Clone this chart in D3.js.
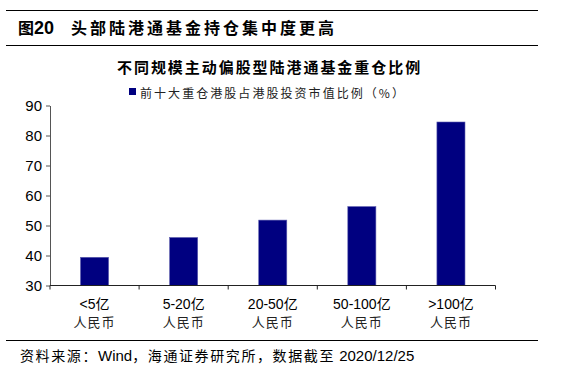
<!DOCTYPE html>
<html lang="zh">
<head>
<meta charset="UTF-8">
<title>头部陆港通基金持仓集中度更高</title>
<script src="https://d3js.org/d3.v7.min.js"></script>
<style>
  body { margin: 0; background: #fff; }
  svg { display: block; }
  .cjk { font-family: "Noto Sans CJK SC", sans-serif; }
  .num { font-family: "Liberation Sans", Arial, sans-serif; }
</style>
</head>
<body>
<div id="chart"></div>
<script>
// data
const categories = ["<5亿", "5-20亿", "20-50亿", "50-100亿", ">100亿"];
const subLabels = ["人民币", "人民币", "人民币", "人民币", "人民币"];
const values = [39.4, 46.0, 51.8, 56.3, 84.5];
const yTicks = [30, 40, 50, 60, 70, 80, 90];
const seriesName = "前十大重仓港股占港股投资市值比例（%）";

const W = 561, H = 371;
const navy = "#000080";

const svg = d3.select("#chart").append("svg")
    .attr("width", W)
    .attr("height", H);

// header rules
svg.append("line").attr("x1", 6).attr("x2", 538).attr("y1", 10.5).attr("y2", 10.5)
    .attr("stroke", "#000").attr("stroke-width", 1);
svg.append("line").attr("x1", 6).attr("x2", 538).attr("y1", 45.5).attr("y2", 45.5)
    .attr("stroke", "#000").attr("stroke-width", 1);

// figure title
const title = svg.append("text").attr("x", 18).attr("y", 34)
    .attr("font-weight", "bold").attr("fill", "#000");
title.append("tspan").attr("class", "cjk").attr("font-size", 16).text("图");
title.append("tspan").attr("class", "num").attr("font-size", 18).text("20");
svg.append("text").attr("class", "cjk").attr("x", 71).attr("y", 34)
    .attr("font-size", 16).attr("font-weight", "bold")
    .attr("letter-spacing", 3)
    .text("头部陆港通基金持仓集中度更高");

// chart subtitle
svg.append("text").attr("class", "cjk").attr("x", 117).attr("y", 73)
    .attr("font-size", 15).attr("font-weight", "bold")
    .attr("letter-spacing", 1.95)
    .text("不同规模主动偏股型陆港通基金重仓比例");

// legend
svg.append("rect").attr("x", 129).attr("y", 88).attr("width", 7).attr("height", 7)
    .attr("fill", navy);
svg.append("text").attr("class", "cjk").attr("x", 140).attr("y", 97.5)
    .attr("font-size", 12).attr("letter-spacing", 2.05).attr("fill", "#222")
    .text(seriesName);

// scales
const x = d3.scaleBand()
    .domain(categories)
    .range([50, 495.5])
    .padding(0);

const y = d3.scaleLinear()
    .domain([30, 90])
    .range([285.5, 105.5]);

// bars
const barW = x.bandwidth() * 0.315;
svg.append("g")
    .selectAll("rect")
    .data(values)
    .enter().append("rect")
    .attr("x", (d, i) => x(categories[i]) + (x.bandwidth() - barW) / 2)
    .attr("y", d => y(d))
    .attr("width", barW)
    .attr("height", d => y(30) - y(d))
    .attr("fill", navy)
    .attr("stroke", "#5c5cae")
    .attr("stroke-width", 0.6);

// y axis
const yAxis = svg.append("g")
    .attr("transform", "translate(50,0)")
    .call(d3.axisLeft(y).tickValues(yTicks).tickSize(4).tickPadding(4).tickSizeOuter(0));
yAxis.select(".domain").attr("stroke", "#555");
yAxis.selectAll(".tick line").attr("stroke", "#555");
yAxis.selectAll(".tick text")
    .attr("class", "num")
    .attr("font-size", 15)
    .attr("fill", "#000");

// x axis: ticks at band edges
const xAxis = svg.append("g").attr("transform", "translate(0,285.5)");
xAxis.append("line").attr("x1", 50).attr("x2", 495.5)
    .attr("stroke", "#222");
const edges = categories.map(c => x(c)).concat([x.range()[1]]);
xAxis.selectAll(".edge")
    .data(edges)
    .enter().append("line")
    .attr("class", "edge")
    .attr("x1", d => d).attr("x2", d => d)
    .attr("y1", 0).attr("y2", 4)
    .attr("stroke", "#222");

// category labels
const lab = svg.append("g").selectAll("g")
    .data(categories)
    .enter().append("g")
    .attr("transform", d => `translate(${x(d) + x.bandwidth() / 2},0)`);
lab.append("text")
    .attr("y", 308.5)
    .attr("text-anchor", "middle")
    .attr("font-size", 14)
    .attr("fill", "#000")
    .attr("font-family", "'Liberation Sans', 'Noto Sans CJK SC', sans-serif")
    .text(d => d);
lab.append("text")
    .attr("class", "cjk")
    .attr("y", 326.5)
    .attr("text-anchor", "middle")
    .attr("font-size", 13)
    .attr("letter-spacing", 1)
    .attr("fill", "#222")
    .text((d, i) => subLabels[i]);

// footer
svg.append("line").attr("x1", 6).attr("x2", 538).attr("y1", 340.5).attr("y2", 340.5)
    .attr("stroke", "#000").attr("stroke-width", 1);
const src = svg.append("text").attr("x", 20).attr("y", 361)
    .attr("font-size", 14).attr("fill", "#000");
src.append("tspan").attr("class", "cjk").attr("letter-spacing", 1.6).text("资料来源：");
src.append("tspan").attr("class", "num").attr("font-size", 15).text("Wind");
src.append("tspan").attr("class", "cjk").attr("letter-spacing", 1.6).text("，海通证券研究所，数据截至");
src.append("tspan").attr("class", "num").attr("font-size", 15).text(" 2020/12/25");
</script>
</body>
</html>
